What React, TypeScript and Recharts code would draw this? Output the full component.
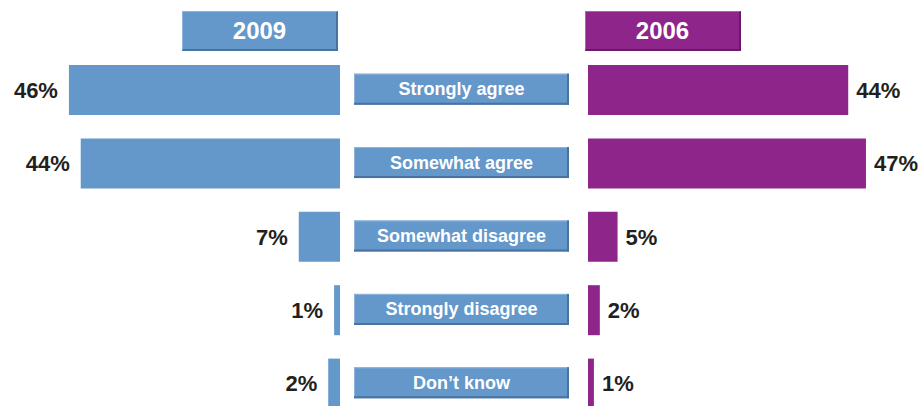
import { BarChart, Bar, XAxis, YAxis, LabelList } from 'recharts';

const categories = ['Strongly agree', 'Somewhat agree', 'Somewhat disagree', 'Strongly disagree', 'Don’t know'];
const values2009 = [46, 44, 7, 1, 2];
const values2006 = [44, 47, 5, 2, 1];
const years = ['2009', '2006'];

const BLUE = '#6497ca';
const PURPLE = '#8e258b';
const FONT = '"Liberation Sans", Arial, sans-serif';

const data = categories.map((category, i) => ({
    category,
    v2009: values2009[i],
    v2006: values2006[i],
}));

const pct = (v: any) => `${v}%`;

// category box drawn as the y-axis tick of the right chart
const CategoryTick = (props: any) => {
    const { y, payload } = props;
    const bx = 14;
    const bw = 215;
    const bh = 31;
    const by = y - 16;
    return (
        <g>
            <rect x={bx} y={by} width={bw} height={bh} fill={BLUE} />
            <line x1={bx} y1={by + 0.5} x2={bx + bw} y2={by + 0.5} stroke="#8fb4dc" />
            <line x1={bx + 0.5} y1={by} x2={bx + 0.5} y2={by + bh} stroke="#8fb4dc" />
            <line x1={bx} y1={by + bh - 1} x2={bx + bw} y2={by + bh - 1} stroke="#4a72a0" strokeWidth={2} />
            <line x1={bx + bw - 1} y1={by} x2={bx + bw - 1} y2={by + bh} stroke="#4a72a0" strokeWidth={2} />
            <text
                x={bx + bw / 2}
                y={by + bh / 2}
                textAnchor="middle"
                dominantBaseline="central"
                fill="#fff"
                fontFamily={FONT}
                fontWeight="bold"
                fontSize={18}
            >
                {payload.value}
            </text>
        </g>
    );
};

const headerStyle = (left: number, color: string, dark: string, light: string): React.CSSProperties => ({
    position: 'absolute',
    left,
    top: 11,
    width: 156,
    height: 40,
    boxSizing: 'border-box',
    background: color,
    borderTop: `1px solid ${light}`,
    borderLeft: `1px solid ${light}`,
    borderBottom: `2px solid ${dark}`,
    borderRight: `2px solid ${dark}`,
    color: '#fff',
    fontFamily: FONT,
    fontWeight: 'bold',
    fontSize: 24,
    lineHeight: '37px',
    textAlign: 'center',
});

const App = () => {
    return (
        <div style={{ position: 'fixed', left: 0, top: 0, width: 918, height: 406, overflow: 'hidden', background: '#fff' }}>
            <div style={headerStyle(182, BLUE, '#4a72a0', '#8fb4dc')}>{years[0]}</div>
            <div style={headerStyle(585, PURPLE, '#6a1a68', '#b060ad')}>{years[1]}</div>

            <div style={{ position: 'absolute', left: 0, top: 0 }}>
                <BarChart
                    width={340}
                    height={430}
                    data={data}
                    layout="vertical"
                    margin={{ top: 53, right: 0, bottom: 10, left: 0 }}
                >
                    <XAxis type="number" hide domain={[0, 57.7]} reversed />
                    <YAxis type="category" dataKey="category" hide />
                    <Bar dataKey="v2009" fill={BLUE} barSize={50} isAnimationActive={false}>
                        <LabelList
                            dataKey="v2009"
                            position="right"
                            offset={11}
                            formatter={pct}
                            fill="#231f20"
                            fontFamily={FONT}
                            fontWeight="bold"
                            fontSize={22}
                        />
                    </Bar>
                </BarChart>
            </div>

            <div style={{ position: 'absolute', left: 340, top: 0 }}>
                <BarChart
                    width={578}
                    height={430}
                    data={data}
                    layout="vertical"
                    margin={{ top: 53, right: 0, bottom: 10, left: 0 }}
                >
                    <XAxis type="number" hide domain={[0, 55.8]} />
                    <YAxis
                        type="category"
                        dataKey="category"
                        width={248}
                        axisLine={false}
                        tickLine={false}
                        tick={<CategoryTick />}
                    />
                    <Bar dataKey="v2006" fill={PURPLE} barSize={50} isAnimationActive={false}>
                        <LabelList
                            dataKey="v2006"
                            position="right"
                            offset={8}
                            formatter={pct}
                            fill="#231f20"
                            fontFamily={FONT}
                            fontWeight="bold"
                            fontSize={22}
                        />
                    </Bar>
                </BarChart>
            </div>
        </div>
    );
};

export default App;
